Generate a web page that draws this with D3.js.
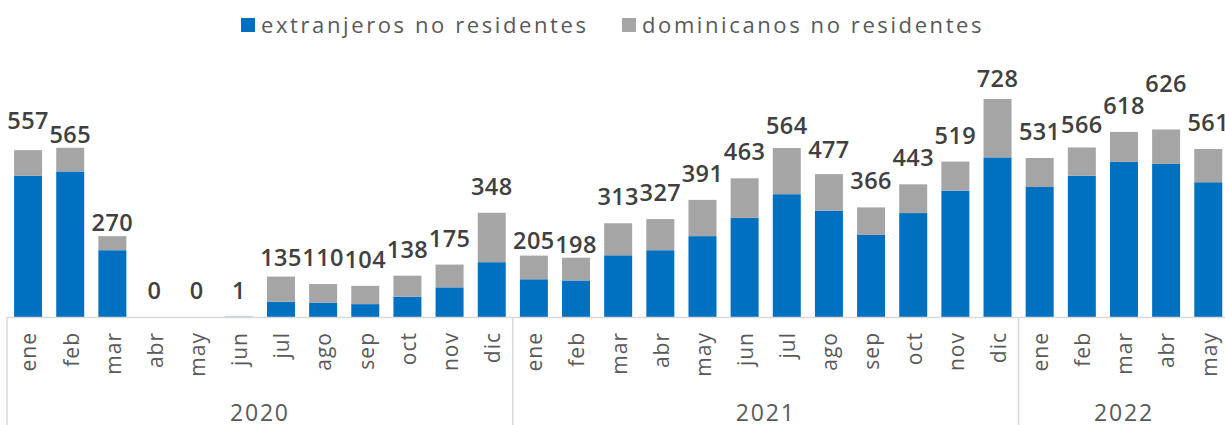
<!DOCTYPE html>
<html>
<head>
<meta charset="utf-8">
<script src="https://cdn.jsdelivr.net/npm/d3@7"></script>
<style>
    body { margin: 0; background: #fff; }
    svg { display: block; font-family: "Open Sans", sans-serif; }
</style>
</head>
<body>
<div id="chart"></div>
<script>
// data
const years = ["2020", "2021", "2022"];
const months = ["ene", "feb", "mar", "abr", "may", "jun", "jul", "ago", "sep", "oct", "nov", "dic"];
const monthsPerYear = [12, 12, 5];
const totals = [557, 565, 270, 0, 0, 1, 135, 110, 104, 138, 175, 348,
                205, 198, 313, 327, 391, 463, 564, 477, 366, 443, 519, 728,
                531, 566, 618, 626, 561];
const extranjeros = [472, 486, 223, 0, 0, 1, 51, 47, 43, 68, 99, 183,
                     126, 122, 206, 223, 270, 331, 410, 355, 274, 347, 422, 533,
                     434, 472, 518, 511, 450];
const dominicanos = totals.map((t, i) => t - extranjeros[i]);
const seriesNames = ["extranjeros no residentes", "dominicanos no residentes"];
const colors = ["#0070C0", "#A5A5A5"];

// label placement tweaks (px between label and bar top), default 18
const labelGapDefault = 18;
const labelGap = {0: 21, 1: 5, 2: 5, 6: 11, 12: 7, 13: 5, 18: 14, 19: 16, 23: 12, 25: 14, 27: 38};

const W = 1225, H = 425;
const svg = d3.select("#chart").append("svg")
    .attr("width", W)
    .attr("height", H);

// build rows
let rows = [];
years.forEach((yr, yi) => {
    for (let m = 0; m < monthsPerYear[yi]; m++) {
        rows.push({key: yr + "-" + m, year: yr, month: months[m]});
    }
});
rows.forEach((r, i) => {
    r.ext = extranjeros[i];
    r.dom = dominicanos[i];
    r.total = totals[i];
});

const x0 = 7, bandW = 42.15;
const x = d3.scaleBand()
    .domain(rows.map(d => d.key))
    .range([x0, x0 + bandW * rows.length])
    .paddingInner(0.336)
    .paddingOuter(0.168);

const baseY = 317;
const y = d3.scaleLinear()
    .domain([0, 800])
    .range([baseY, baseY - 800 * 0.2995]);

const stack = d3.stack().keys(["ext", "dom"]);
const stacked = stack(rows);

svg.append("g")
    .selectAll("g")
    .data(stacked)
    .enter()
    .append("g")
    .attr("fill", (d, i) => colors[i])
    .selectAll("rect")
    .data(d => d)
    .enter()
    .append("rect")
    .attr("x", d => x(d.data.key))
    .attr("width", x.bandwidth())
    .attr("y", d => y(d[1]))
    .attr("height", d => y(d[0]) - y(d[1]));

// value labels
svg.append("g")
    .selectAll("text")
    .data(rows)
    .enter()
    .append("text")
    .attr("x", d => x(d.key) + x.bandwidth() / 2)
    .attr("y", (d, i) => y(d.total) - (labelGap[i] !== undefined ? labelGap[i] : labelGapDefault))
    .attr("text-anchor", "middle")
    .attr("font-size", 23.5)
    .attr("font-weight", 600)
    .attr("letter-spacing", 0.4)
    .attr("fill", "#404040")
    .text(d => d.total);

// axis
const axisColor = "#d9d9d9";
svg.append("line")
    .attr("x1", x0).attr("x2", W)
    .attr("y1", baseY + 0.5).attr("y2", baseY + 0.5)
    .attr("stroke", axisColor)
    .attr("stroke-width", 1.5);

let start = 0;
let yearBounds = [];
monthsPerYear.forEach((n, yi) => {
    yearBounds.push({year: years[yi], from: x0 + start * bandW, to: x0 + (start + n) * bandW});
    start += n;
});

svg.append("g")
    .selectAll("line")
    .data(yearBounds)
    .enter()
    .append("line")
    .attr("x1", d => d.from).attr("x2", d => d.from)
    .attr("y1", baseY).attr("y2", H)
    .attr("stroke", axisColor)
    .attr("stroke-width", 1.5);

svg.append("g")
    .selectAll("text")
    .data(rows)
    .enter()
    .append("text")
    .attr("transform", d => `translate(${x(d.key) + x.bandwidth() / 2 + 1}, 332) rotate(-90)`)
    .attr("text-anchor", "end")
    .attr("dy", "0.35em")
    .attr("font-size", 21)
    .attr("letter-spacing", 1)
    .attr("fill", "#595959")
    .text(d => d.month);

svg.append("g")
    .selectAll("text")
    .data(yearBounds)
    .enter()
    .append("text")
    .attr("x", d => (d.from + d.to) / 2)
    .attr("y", 421)
    .attr("text-anchor", "middle")
    .attr("font-size", 23)
    .attr("letter-spacing", 1.8)
    .attr("fill", "#595959")
    .text(d => d.year);

// legend
const legend = svg.append("g").attr("class", "legend");
const legendX = [241, 622];
seriesNames.forEach((name, i) => {
    legend.append("rect")
        .attr("x", legendX[i])
        .attr("y", 18)
        .attr("width", 14)
        .attr("height", 14)
        .attr("fill", colors[i]);
    legend.append("text")
        .attr("x", legendX[i] + 20)
        .attr("y", 32.5)
        .attr("font-size", 22)
        .attr("letter-spacing", 2.6)
        .attr("fill", "#595959")
        .text(name);
});
</script>
</body>
</html>
